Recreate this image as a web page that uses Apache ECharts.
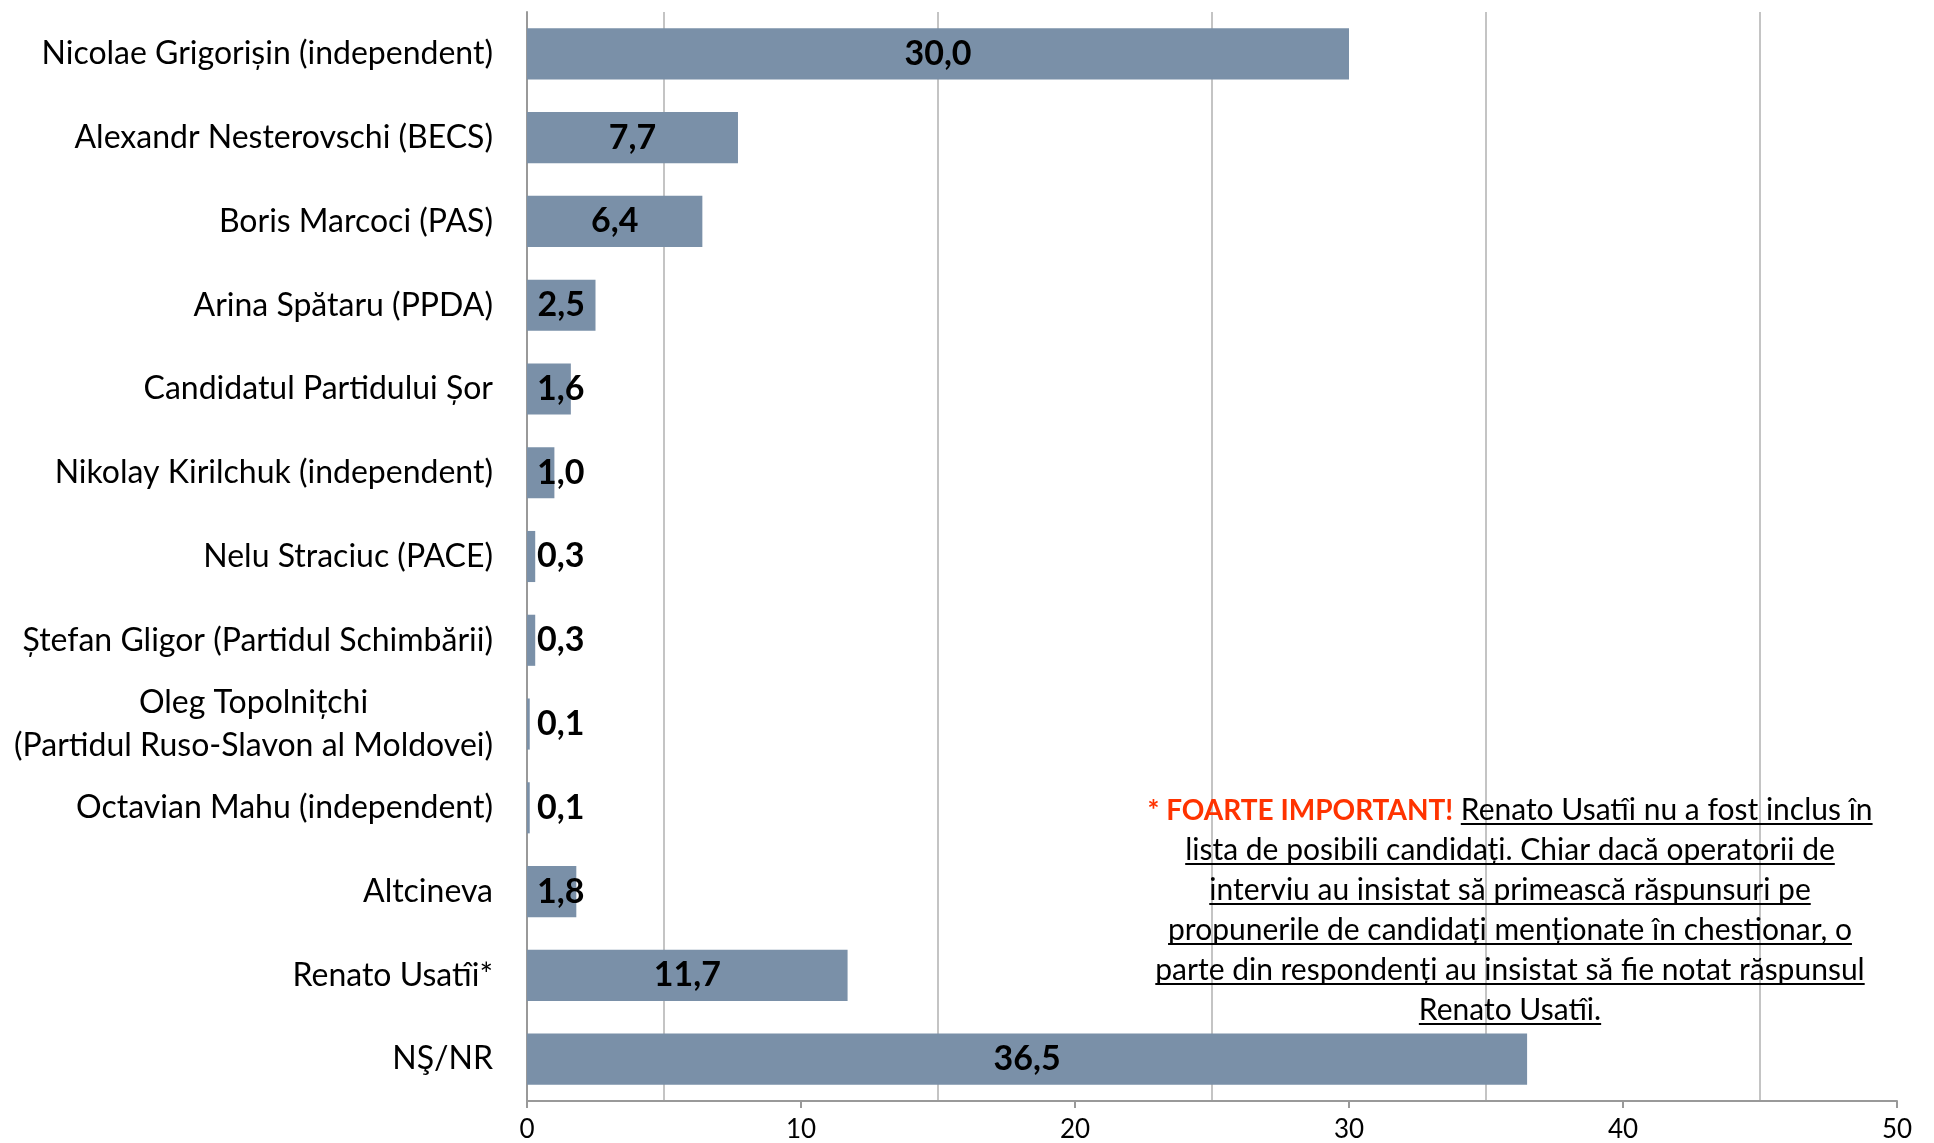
<!DOCTYPE html>
<html><head><meta charset="utf-8">
<script src="https://cdn.jsdelivr.net/npm/echarts@6/dist/echarts.min.js"></script>
<style>html,body{margin:0;padding:0;background:#fff}#c{width:1934px;height:1143px}</style>
</head><body><div id="c"></div>
<script>
const categories = [
  'Nicolae Grigorișin (independent)',
  'Alexandr Nesterovschi (BECS)',
  'Boris Marcoci (PAS)',
  'Arina Spătaru (PPDA)',
  'Candidatul Partidului Șor',
  'Nikolay Kirilchuk (independent)',
  'Nelu Straciuc (PACE)',
  'Ștefan Gligor (Partidul Schimbării)',
  'Oleg Topolnițchi\n(Partidul Ruso-Slavon al Moldovei)',
  'Octavian Mahu (independent)',
  'Altcineva',
  'Renato Usatîi*',
  'NŞ/NR'
];
const values = [30.0, 7.7, 6.4, 2.5, 1.6, 1.0, 0.3, 0.3, 0.1, 0.1, 1.8, 11.7, 36.5];
const xMin = 0, xMax = 50, xInterval = 10, gridInterval = 5;
const noteHighlight = '* FOARTE IMPORTANT!';
const noteLines = [
  'Renato Usatîi nu a fost inclus în',
  'lista de posibili candidați. Chiar dacă operatorii de',
  'interviu au insistat să primească răspunsuri pe',
  'propunerile de candidați menționate în chestionar, o',
  'parte din respondenți au insistat să fie notat răspunsul',
  'Renato Usatîi.'
];

const FONT = 'Lato, "Noto Sans", sans-serif';
const CAT_SIZE = 32, VAL_SIZE = 34, TICK_SIZE = 26, NOTE_SIZE = 30, RED_SIZE = 28;

const mc = document.createElement('canvas').getContext('2d');
function tw(text, size, weight) {
  mc.font = (weight || 'normal') + ' ' + size + 'px ' + FONT;
  return mc.measureText(text).width;
}

let multiW = 0;
categories.forEach(c => { if (c.indexOf('\n') >= 0) c.split('\n').forEach(p => { multiW = Math.max(multiW, tw(p, CAT_SIZE)); }); });

const barData = values.map(v => ({
  value: v,
  label: v < 2 ? { position: 'insideLeft', distance: 10 } : { position: 'inside' }
}));

const cx = 1510, baseline0 = 820, lineGap = 40;
const graphics = [];
function addText(text, x, baseline, color, weight, align, size) {
  graphics.push({
    type: 'text', x: x, y: baseline - 0.32 * size, z: 100,
    style: { text: text, fill: color, fontSize: size, fontFamily: FONT, fontWeight: weight, align: align, verticalAlign: 'middle' }
  });
}
function addUnderline(x1, x2, baseline) {
  graphics.push({
    type: 'line', z: 100,
    shape: { x1: x1, y1: baseline + 4, x2: x2, y2: baseline + 4 },
    style: { stroke: '#000', lineWidth: 2 }
  });
}
noteLines.forEach((line, i) => {
  const b = baseline0 + i * lineGap;
  if (i === 0) {
    const rw = tw(noteHighlight, RED_SIZE, 'bold');
    const sw = tw(' ', NOTE_SIZE);
    const lw = tw(line, NOTE_SIZE);
    const x0 = cx - (rw + sw + lw) / 2;
    addText(noteHighlight, x0, b, '#FF3300', 'bold', 'left', RED_SIZE);
    addText(line, x0 + rw + sw, b, '#000', 'normal', 'left', NOTE_SIZE);
    addUnderline(x0 + rw + sw, x0 + rw + sw + lw, b);
  } else {
    const lw = tw(line, NOTE_SIZE);
    addText(line, cx, b, '#000', 'normal', 'center', NOTE_SIZE);
    addUnderline(cx - lw / 2, cx + lw / 2, b);
  }
});

const chart = echarts.init(document.getElementById('c'), null, { renderer: 'canvas' });
chart.setOption({
  animation: false,
  backgroundColor: '#fff',
  grid: { left: 527, right: 37, top: 12, bottom: 39 },
  xAxis: [
    {
      type: 'value', min: xMin, max: xMax, interval: xInterval, position: 'bottom',
      axisLine: { show: true, lineStyle: { color: '#999', width: 2 } },
      axisTick: { show: true, length: 7, lineStyle: { color: '#999', width: 2 } },
      axisLabel: { color: '#000', fontSize: TICK_SIZE, fontFamily: FONT, margin: 16 },
      splitLine: { show: false }
    },
    {
      type: 'value', min: xMin, max: xMax, interval: gridInterval, position: 'bottom',
      axisLine: { show: false }, axisTick: { show: false }, axisLabel: { show: false },
      splitLine: { show: true, lineStyle: { color: ['rgba(0,0,0,0)', '#C4C4C4'], width: 2 } }
    }
  ],
  yAxis: {
    type: 'category', data: categories, inverse: true,
    axisLine: { show: true, lineStyle: { color: '#999', width: 2 } },
    axisTick: { show: false },
    axisLabel: {
      color: '#000', fontSize: CAT_SIZE, fontFamily: FONT, margin: 34, lineHeight: 43,
      formatter: function (v) {
        if (v.indexOf('\n') < 0) return v;
        return v.split('\n').map(p => '{c|' + p + '}').join('\n');
      },
      rich: { c: { width: multiW, align: 'center', fontSize: CAT_SIZE, fontFamily: FONT, color: '#000', lineHeight: 43 } }
    }
  },
  series: [{
    type: 'bar', xAxisIndex: 0, data: barData, barCategoryGap: '39%',
    itemStyle: { color: '#7A90A8' },
    label: {
      show: true, color: '#000', fontSize: VAL_SIZE, fontWeight: 'bold', fontFamily: FONT,
      formatter: p => p.value.toFixed(1).replace('.', ',')
    }
  }],
  graphic: graphics
});
</script></body></html>
